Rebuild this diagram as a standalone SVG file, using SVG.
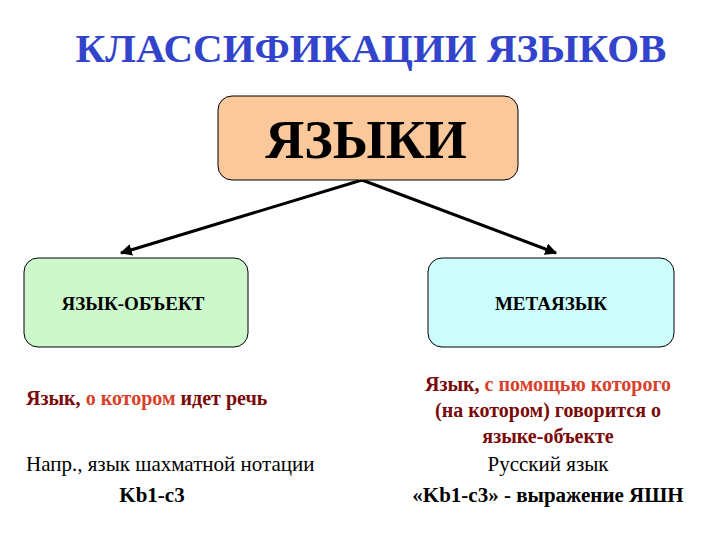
<svg xmlns="http://www.w3.org/2000/svg" width="720" height="540" viewBox="0 0 720 540" font-family="'Liberation Serif','DejaVu Serif','Times New Roman',serif">
<style>
text{font-family:'Liberation Serif','DejaVu Serif','Times New Roman',serif}
.box{stroke:#000;stroke-width:1}
.dr{fill:#7a0a0a;font-weight:bold}
.or{fill:#d8402a;font-weight:bold}
.conn{stroke:#000;stroke-width:3;fill:none;marker-end:url(#ah)}
</style>
<defs>
<marker id="ah" viewBox="0 0 10 10" refX="9" refY="5" markerWidth="4" markerHeight="4" orient="auto"><path d="M0,0L10,5L0,10z" fill="#000"/></marker>
</defs>
<rect width="720" height="540" fill="#fff"/>
<text x="371" y="62" text-anchor="middle" font-size="41" font-weight="bold" fill="#3344cc">КЛАССИФИКАЦИИ ЯЗЫКОВ</text>
<g id="connectors">
<line class="conn" x1="362" y1="180" x2="121" y2="253"/>
<line class="conn" x1="362" y1="180" x2="556" y2="253"/>
</g>
<g id="n-languages">
<rect class="box" x="218" y="96" width="300" height="84" rx="14" fill="#fac89a"/>
<text x="366" y="158" text-anchor="middle" font-size="54" font-weight="bold">ЯЗЫКИ</text>
</g>
<g id="n-object">
<rect class="box" x="24" y="258" width="224" height="89" rx="14" fill="#ccf8cc"/>
<text x="133" y="310" text-anchor="middle" font-size="19" font-weight="bold">ЯЗЫК-ОБЪЕКТ</text>
</g>
<g id="n-meta">
<rect class="box" x="428" y="258" width="246" height="89" rx="14" fill="#ccfcfc"/>
<text x="551" y="310" text-anchor="middle" font-size="19" font-weight="bold">МЕТАЯЗЫК</text>
</g>
<g id="left-text" font-size="20">
<text x="26" y="405"><tspan class="dr">Язык, </tspan><tspan class="or">о котором </tspan><tspan class="dr">идет речь</tspan></text>
<text x="26" y="471" font-size="21">Напр., язык шахматной нотации</text>
<text x="152" y="502" text-anchor="middle" font-weight="bold" font-size="21">Kb1-c3</text>
</g>
<g id="right-text" font-size="20" text-anchor="middle">
<text x="548" y="391"><tspan class="dr">Язык, </tspan><tspan class="or">с помощью которого</tspan></text>
<text x="548" y="417" class="dr">(на котором) говорится о</text>
<text x="548" y="443" class="dr">языке-объекте</text>
<text x="548" y="471" font-size="21">Русский язык</text>
<text x="548" y="502" font-weight="bold" font-size="21">«Kb1-c3» - выражение ЯШН</text>
</g>
</svg>
